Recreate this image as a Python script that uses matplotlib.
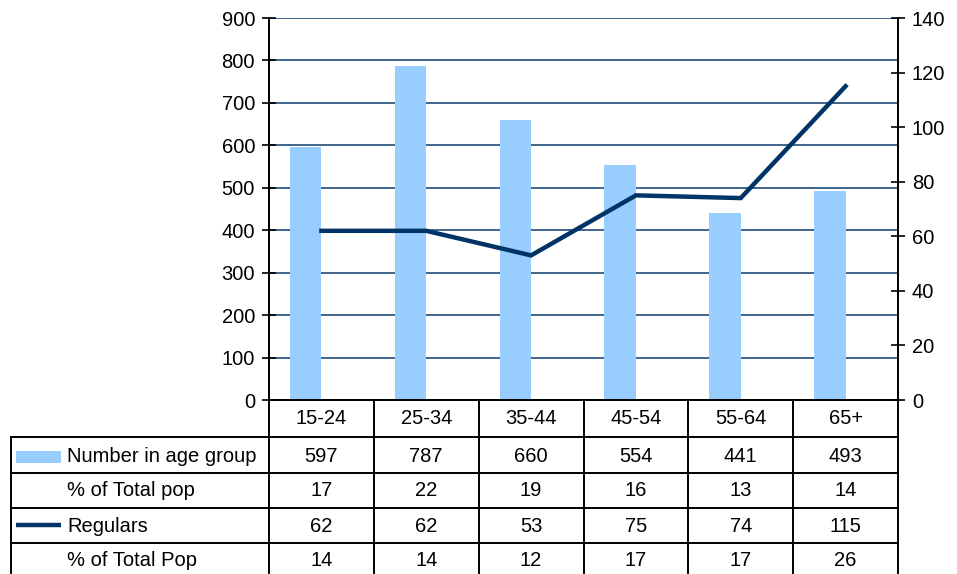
import matplotlib
matplotlib.use("Agg")
import matplotlib.pyplot as plt
from matplotlib.patches import Rectangle
from matplotlib.lines import Line2D

plt.rcParams['font.family'] = ['Liberation Sans', 'DejaVu Sans']

# ---- data ----
age_groups = ["15-24", "25-34", "35-44", "45-54", "55-64", "65+"]
number_in_age_group = [597, 787, 660, 554, 441, 493]
pct_total_pop = [17, 22, 19, 16, 13, 14]
regulars = [62, 62, 53, 75, 74, 115]
pct_total_pop_regulars = [14, 14, 12, 17, 17, 26]

left_ticks = list(range(0, 1000, 100))
right_ticks = list(range(0, 160, 20))

BAR_COLOR = "#99CCFF"
LINE_COLOR = "#003366"
GRID_COLOR = "#1F4A7A"
FS = 14.5

W, H = 957, 574
fig = plt.figure(figsize=(W / 100, H / 100), dpi=100)

# plot area in pixels
px_l, px_r, px_t, px_b = 269, 898, 18, 400
ax = fig.add_axes([px_l / W, 1 - px_b / H, (px_r - px_l) / W, (px_b - px_t) / H])
ax2 = ax.twinx()

x = list(range(len(age_groups)))
ax.bar(x, number_in_age_group, width=-0.3, align='edge', color=BAR_COLOR, zorder=2)
ax2.plot(x, regulars, color=LINE_COLOR, lw=3.2, solid_joinstyle='miter', zorder=3)

ax.set_xlim(-0.5, len(age_groups) - 0.5)
ax.set_ylim(0, 900)
ax2.set_ylim(0, 140)
ax.set_yticks(left_ticks)
ax2.set_yticks(right_ticks)
ax.set_xticks([])

ax.set_axisbelow(True)
ax.yaxis.grid(True, color=GRID_COLOR, lw=1.2)
ax.tick_params(axis='y', direction='inout', length=10, width=1.2, labelsize=FS, pad=5)
ax2.tick_params(axis='y', direction='inout', length=10, width=1.2, labelsize=FS, pad=5)

for a in (ax, ax2):
    a.spines['top'].set_visible(False)
    for s in ('left', 'right', 'bottom'):
        a.spines[s].set_color('black')
        a.spines[s].set_linewidth(1.3)

# ---- data table under the plot ----
def fy(ypix):
    """pixel row -> axes fraction"""
    return (px_b - ypix) / (px_b - px_t)

def fx(xpix):
    """pixel column -> axes fraction"""
    return (xpix - px_l) / (px_r - px_l)

tx = ax.get_xaxis_transform()   # x in data, y in axes fraction
ta = ax.transAxes
lw_tab = 1.4

row_lines = [437, 473, 508, 543]
bottom = H + 5
n = len(age_groups)

# vertical column separators
for i in range(n + 1):
    xb = i - 0.5
    ax.add_line(Line2D([xb, xb], [fy(px_b), fy(bottom)], transform=tx,
                       color='black', lw=lw_tab, clip_on=False))
# left border of label column
ax.add_line(Line2D([fx(11), fx(11)], [fy(row_lines[0]), fy(bottom)], transform=ta,
                   color='black', lw=lw_tab, clip_on=False))
# horizontal row separators
for yl in row_lines:
    ax.add_line(Line2D([fx(11), 1.0], [fy(yl), fy(yl)], transform=ta,
                       color='black', lw=lw_tab, clip_on=False))

# header row
for i, g in enumerate(age_groups):
    ax.text(i, fy(419), g, transform=tx, ha='center', va='center', fontsize=FS)

rows = [
    ("Number in age group", number_in_age_group, 'bar'),
    ("% of Total pop", pct_total_pop, None),
    ("Regulars", regulars, 'line'),
    ("% of Total Pop", pct_total_pop_regulars, None),
]
row_centers = [456, 491, 526, 561]
for (label, vals, key), yc in zip(rows, row_centers):
    ax.text(fx(67), fy(yc), label, transform=ta, ha='left', va='center', fontsize=FS)
    for i, v in enumerate(vals):
        ax.text(i, fy(yc), str(v), transform=tx, ha='center', va='center', fontsize=FS)
    if key == 'bar':
        ax.add_patch(Rectangle((fx(16), fy(463)), fx(61) - fx(16), fy(451) - fy(463),
                               transform=ta, color=BAR_COLOR, clip_on=False, lw=0))
    elif key == 'line':
        ax.add_line(Line2D([fx(16), fx(61)], [fy(yc - 1), fy(yc - 1)], transform=ta,
                           color=LINE_COLOR, lw=3.2, clip_on=False, solid_capstyle='butt'))

fig.savefig("out.png", dpi=100)
